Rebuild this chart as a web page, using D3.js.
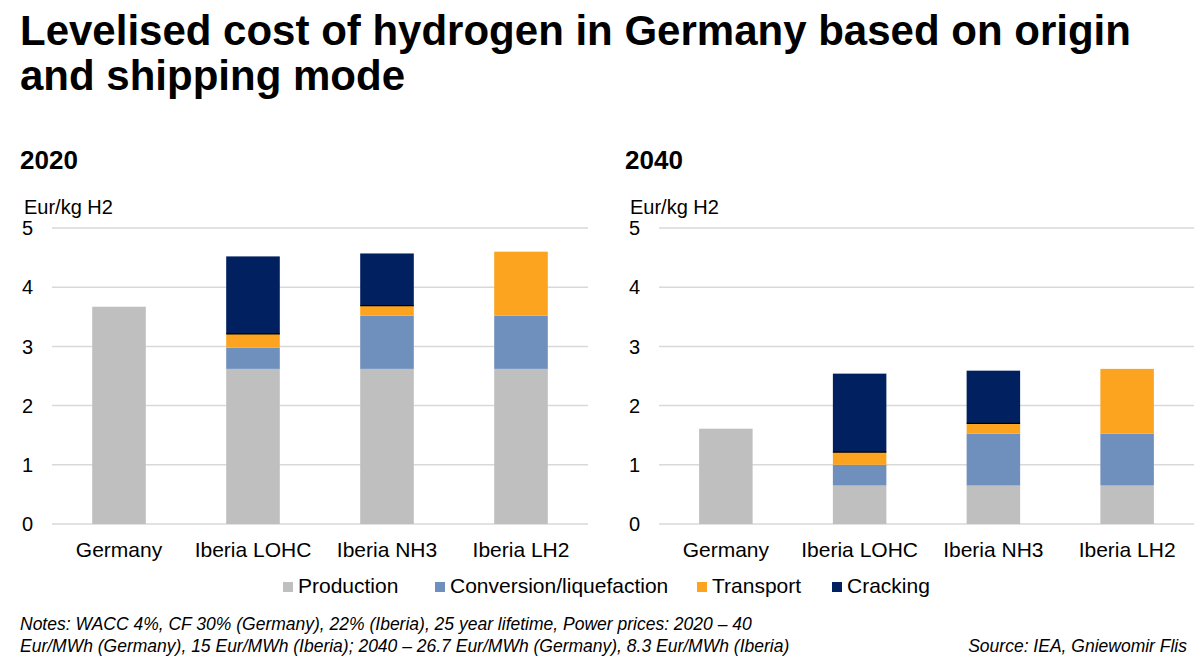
<!DOCTYPE html>
<html>
<head>
<meta charset="utf-8">
<script src="https://cdn.jsdelivr.net/npm/d3@7"></script>
<style>
  html, body { margin: 0; padding: 0; background: #fff; }
  svg { display: block; font-family: "Liberation Sans", Arial, sans-serif; }
</style>
</head>
<body>
<svg id="chart" width="1200" height="668"></svg>
<script>
// ---- data ----
const categories = ["Germany", "Iberia LOHC", "Iberia NH3", "Iberia LH2"];
const seriesNames = ["Production", "Conversion/liquefaction", "Transport", "Cracking"];
const seriesColors = ["#BFBFBF", "#6F8FBC", "#FCA41F", "#002060"];

const production2020 = [3.67, 2.62, 2.62, 2.62];
const conversion2020 = [0, 0.36, 0.90, 0.90];
const transport2020  = [0, 0.23, 0.17, 1.08];
const cracking2020   = [0, 1.31, 0.88, 0];

const production2040 = [1.61, 0.65, 0.65, 0.65];
const conversion2040 = [0, 0.35, 0.875, 0.875];
const transport2040  = [0, 0.215, 0.175, 1.095];
const cracking2040   = [0, 1.325, 0.89, 0];

const yTicks = [0, 1, 2, 3, 4, 5];
const panelTitles = ["2020", "2040"];
const unitLabel = "Eur/kg H2";
const titleLines = ["Levelised cost of hydrogen in Germany based on origin", "and shipping mode"];
const notesLines = [
  "Notes: WACC 4%, CF 30% (Germany), 22% (Iberia), 25 year lifetime, Power prices: 2020 \u2013 40",
  "Eur/MWh (Germany), 15 Eur/MWh (Iberia); 2040 \u2013 26.7 Eur/MWh (Germany), 8.3 Eur/MWh (Iberia)"
];
const sourceText = "Source: IEA, Gniewomir Flis";

// ---- build tables ----
function buildRows(p, c, t, k) {
  return categories.map((cat, i) => ({
    category: cat,
    "Production": p[i],
    "Conversion/liquefaction": c[i],
    "Transport": t[i],
    "Cracking": k[i]
  }));
}
const panels = [
  { title: panelTitles[0], rows: buildRows(production2020, conversion2020, transport2020, cracking2020), x0: 52, x1: 588, titleX: 20, unitX: 24, tickX: 33 },
  { title: panelTitles[1], rows: buildRows(production2040, conversion2040, transport2040, cracking2040), x0: 659, x1: 1194, titleX: 625, unitX: 630, tickX: 640 }
];

const svg = d3.select("#chart");
const color = d3.scaleOrdinal().domain(seriesNames).range(seriesColors);
const stack = d3.stack().keys(seriesNames);

// title
svg.append("g").selectAll("text").data(titleLines).join("text")
  .attr("x", 20).attr("y", (d, i) => 45 + i * 45)
  .attr("font-size", 42).attr("font-weight", "bold").attr("fill", "#000")
  .text(d => d);

const yTop = 228, yBottom = 524;

panels.forEach(p => {
  const g = svg.append("g");
  const x = d3.scaleBand().domain(categories).range([p.x0, p.x1]).paddingInner(0.6).paddingOuter(0.3);
  const xLab = d3.scaleBand().domain(categories).range([p.x0, p.x1]);
  const y = d3.scaleLinear().domain([0, 5]).range([yBottom, yTop]);

  // panel title
  g.append("text").attr("x", p.titleX).attr("y", 169)
    .attr("font-size", 26).attr("font-weight", "bold").text(p.title);
  g.append("text").attr("x", p.unitX).attr("y", 214)
    .attr("font-size", 20).text(unitLabel);

  // gridlines
  g.append("g").selectAll("line").data(yTicks).join("line")
    .attr("x1", p.x0).attr("x2", p.x1)
    .attr("y1", d => y(d)).attr("y2", d => y(d))
    .attr("stroke", "#D9D9D9").attr("stroke-width", 1.5);

  // y tick labels
  g.append("g").selectAll("text").data(yTicks).join("text")
    .attr("x", p.tickX).attr("y", d => y(d)).attr("dy", "0.36em")
    .attr("text-anchor", "end").attr("font-size", 20).attr("fill", "#000")
    .text(d => d);

  // bars
  const stacked = stack(p.rows);
  g.append("g").selectAll("g").data(stacked).join("g")
    .attr("fill", d => color(d.key))
    .selectAll("rect").data(d => d.filter(s => s[1] - s[0] > 0)).join("rect")
    .attr("x", d => x(d.data.category))
    .attr("width", x.bandwidth())
    .attr("y", d => y(d[1]))
    .attr("height", d => y(d[0]) - y(d[1]));

  // thin dark edge at bottom of cracking segment
  const crack = stacked.find(s => s.key === "Cracking");
  g.append("g").selectAll("line").data(crack.filter(s => s[1] - s[0] > 0)).join("line")
    .attr("x1", d => x(d.data.category)).attr("x2", d => x(d.data.category) + x.bandwidth())
    .attr("y1", d => y(d[0])).attr("y2", d => y(d[0]))
    .attr("stroke", "#000").attr("stroke-width", 1.2);

  // category labels
  g.append("g").selectAll("text").data(categories).join("text")
    .attr("x", d => xLab(d) + xLab.bandwidth() / 2).attr("y", 557)
    .attr("text-anchor", "middle").attr("font-size", 21).attr("fill", "#000")
    .text(d => d);
});

// legend
const legendX = [283, 435, 697, 832];
const lg = svg.append("g").selectAll("g").data(seriesNames).join("g")
  .attr("transform", (d, i) => `translate(${legendX[i]},0)`);
lg.append("rect").attr("x", 0).attr("y", 582).attr("width", 10).attr("height", 10)
  .attr("fill", d => color(d));
lg.append("text").attr("x", 15).attr("y", 593).attr("font-size", 21).attr("fill", "#000")
  .text(d => d);

// notes
svg.append("g").selectAll("text").data(notesLines).join("text")
  .attr("x", 20).attr("y", (d, i) => 630 + i * 22)
  .attr("font-size", 17.5).attr("font-style", "italic").attr("fill", "#000")
  .text(d => d);
svg.append("text").attr("x", 1187).attr("y", 652).attr("text-anchor", "end")
  .attr("font-size", 17.5).attr("font-style", "italic").attr("fill", "#000")
  .text(sourceText);
</script>
</body>
</html>
